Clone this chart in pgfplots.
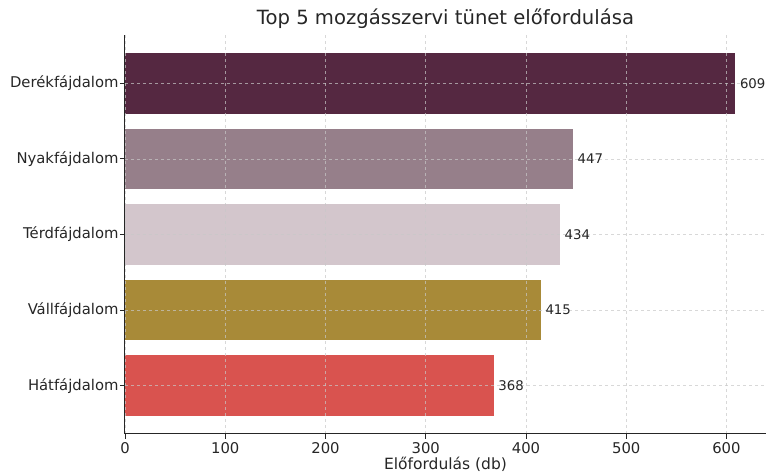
\documentclass[border=0pt]{standalone}
\usepackage{fontspec}
\setmainfont{DejaVu Sans}
\usepackage{pgfplots}
\pgfplotsset{compat=1.18}
\definecolor{cDerek}{RGB}{85,40,65}
\definecolor{cNyak}{RGB}{150,127,138}
\definecolor{cTerd}{RGB}{211,198,204}
\definecolor{cVall}{RGB}{168,138,56}
\definecolor{cHat}{RGB}{217,83,79}
\definecolor{txt}{RGB}{38,38,38}
\definecolor{gridc}{RGB}{200,200,200}
\begin{document}
\begin{tikzpicture}
\begin{axis}[
    scale only axis, width=641pt, height=399pt,
    xbar, bar width=0.8, bar shift=0pt,
    xmin=0, xmax=639.45, ymin=-0.64, ymax=4.64,
    axis x line*=bottom, axis y line*=left,
    axis line style={txt, line width=1pt},
    axis on top,
    xtick={0,100,...,600},
    ytick={0,1,2,3,4},
    yticklabels={Hátfájdalom,Vállfájdalom,Térdfájdalom,Nyakfájdalom,Derékfájdalom},
    tick style={txt, line width=0.9pt},
    major tick length=5pt,
    tick align=outside,
    tick label style={font=\fontsize{14.8}{16}\selectfont, text=txt},
    yticklabel style={xshift=2pt},
    /pgf/number format/assume math mode=true,
    xmajorgrids, ymajorgrids,
    grid style={gridc, opacity=0.7, dashed, line width=0.5pt},
    title={Top 5 mozgásszervi tünet előfordulása},
    title style={font=\fontsize{19.6}{22}\selectfont, text=txt, at={(0.5,1)}, anchor=south, yshift=-3pt},
    xlabel={Előfordulás (db)},
    xlabel style={font=\fontsize{15.5}{17}\selectfont, text=txt, yshift=3pt},
    nodes near coords,
    every node near coord/.append style={font=\fontsize{13.3}{15}\selectfont, text=txt, anchor=west, xshift=1pt},
]
\addplot[fill=cHat, draw=none] coordinates {(368,0)};
\addplot[fill=cVall, draw=none] coordinates {(415,1)};
\addplot[fill=cTerd, draw=none] coordinates {(434,2)};
\addplot[fill=cNyak, draw=none] coordinates {(447,3)};
\addplot[fill=cDerek, draw=none] coordinates {(609,4)};
\end{axis}
\pgfresetboundingbox
\path[use as bounding box] ([shift={(-125pt,-40pt)}]current axis.south west) rectangle ([shift={(1pt,35pt)}]current axis.north east);
\end{tikzpicture}
\end{document}
